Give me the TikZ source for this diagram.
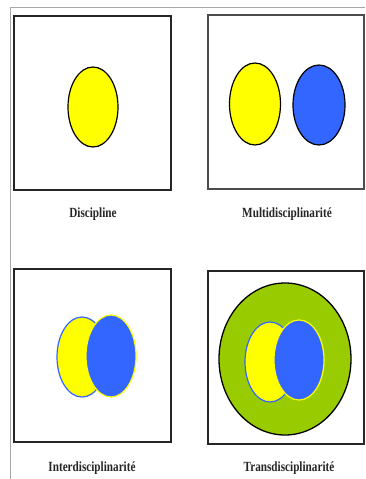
\documentclass[tikz,border=0pt]{standalone}
\usepackage{fontspec}
\setmainfont{Liberation Serif}
\definecolor{ylw}{HTML}{FFFF00}
\definecolor{blu}{HTML}{3366FF}
\definecolor{grn}{HTML}{99CC00}
\definecolor{frm}{HTML}{A8A8A8}
\begin{document}
\begin{tikzpicture}[x=1pt,y=-1pt,
  panel/.style={draw=black!85, line width=1.3pt},
  lbl/.style={font=\fontsize{14}{16}\selectfont\bfseries, xscale=0.8, inner sep=0pt, text=black!85},
  yel/.style={fill=ylw, draw=black, line width=1.2pt},
  blue/.style={fill=blu, draw=black, line width=1.2pt}]
\useasboundingbox (0,0) rectangle (365,479);
\fill[white] (0,0) rectangle (365,479);
% outer frame
\draw[frm, line width=1pt] (365,7) -- (10,7) -- (10,479);
% panel 1
\draw[panel] (14,16) rectangle (171,190);
\draw[yel] (93,107) ellipse [x radius=25, y radius=40];
\node[lbl] (l1) at (93,214) {Discipline};
% panel 2
\draw[panel, draw=black!70, line width=1.8pt] (208,15) rectangle (364,189);
\draw[yel] (255,104) ellipse [x radius=25.5, y radius=41];
\draw[blue] (319,105) ellipse [x radius=26, y radius=40];
\node[lbl] (l2) at (287,214) {Multidisciplinarité};
% panel 3
\draw[panel] (14,269) rectangle (171,442);
\draw[fill=ylw, draw=blu, line width=1.2pt] (82,357) ellipse [x radius=25, y radius=40];
\draw[fill=blu, draw=ylw, line width=1.2pt] (111,356) ellipse [x radius=25, y radius=41];
\node[lbl] (l3) at (92,468) {Interdisciplinarité};
% panel 4
\draw[panel] (208,271) rectangle (364,444);
\draw[fill=grn, draw=black, line width=1.3pt] (285,359) ellipse [x radius=66, y radius=76];
\draw[fill=ylw, draw=blu, line width=1.2pt] (270,362) ellipse [x radius=25, y radius=40];
\draw[fill=blu, draw=ylw, line width=1.2pt] (299,360) ellipse [x radius=25, y radius=40];
\node[lbl] (l4) at (289,468) {Transdisciplinarité};
\end{tikzpicture}
\end{document}
